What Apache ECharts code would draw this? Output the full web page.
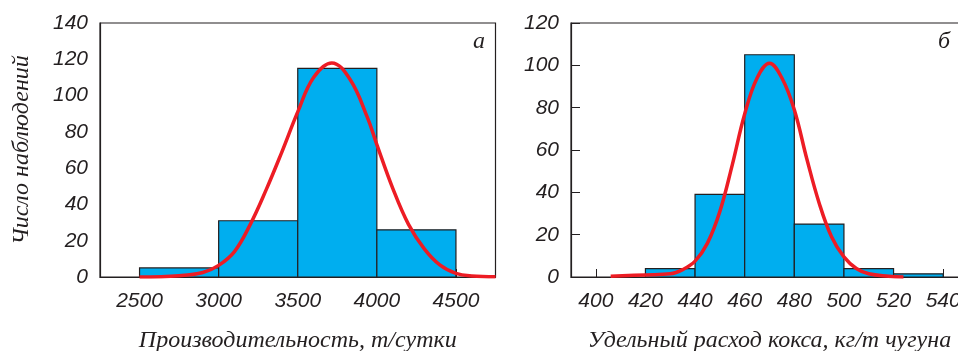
<!DOCTYPE html>
<html>
<head>
<meta charset="utf-8">
<script src="https://cdn.jsdelivr.net/npm/echarts@6/dist/echarts.min.js"></script>
<style>
  html, body { margin: 0; padding: 0; background: #fff; }
  #main { width: 958px; height: 351px; }
</style>
</head>
<body>
<div id="main"></div>
<script>
  // histogram bins [from, to, count]
  const prodBins = [
    [2500, 3000, 5],
    [3000, 3500, 31],
    [3500, 4000, 115],
    [4000, 4500, 26]
  ]
  // fitted curve
  const prodCurve = [
    [2500, 0], [2750, 0.7], [2900, 2.5], [3000, 6.4], [3100, 14], [3200, 29],
    [3300, 48], [3400, 69], [3500, 91], [3600, 110], [3715, 118], [3830, 109],
    [3940, 88], [4000, 73], [4100, 49], [4200, 29], [4300, 15.5], [4400, 6.5],
    [4500, 2], [4600, 0.6], [4750, 0.2]
  ]
  const cokeBins = [
    [420, 440, 4],
    [440, 460, 39],
    [460, 480, 105],
    [480, 500, 25],
    [500, 520, 4],
    [520, 540, 1.5]
  ]
  const cokeCurve = [
    [406, 0.3], [420, 1], [430, 1.5], [435, 3.5], [440, 7.5], [445, 16],
    [450, 31], [455, 53], [460, 77], [465, 94], [470, 101], [475, 94],
    [480, 79], [485, 56], [490, 35], [495, 19], [500, 9.5], [505, 4],
    [510, 1.5], [518, 0.4], [524, 0]
  ]
  const prodTicks = [2500, 3000, 3500, 4000, 4500]
  const cokeTicks = [400, 420, 440, 460, 480, 500, 520, 540]

  const ink = '#231f20'
  const tickFont = { fontFamily: 'Liberation Sans', fontStyle: 'italic', fontSize: 21, color: ink, formatter: v => String(v) }
  const nameFont = { fontFamily: 'Liberation Serif', fontStyle: 'italic', fontSize: 24, color: ink }

  function histItem(params, api) {
    let p0 = api.coord([api.value(0), api.value(2)])
    let p1 = api.coord([api.value(1), 0])
    return {
      type: 'rect',
      shape: { x: p0[0], y: p0[1], width: p1[0] - p0[0], height: p1[1] - p0[1] },
      style: { fill: '#00aeef', stroke: ink, lineWidth: 1.2 }
    }
  }

  let chart = echarts.init(document.getElementById('main'))
  let option = {
    animation: false,
    grid: [
      { left: 100, top: 23, width: 395.5, height: 254, outerBoundsMode: 'none', show: true, borderColor: ink, borderWidth: 1.2 },
      { left: 571, top: 23, width: 397, height: 254, outerBoundsMode: 'none', show: true, borderColor: ink, borderWidth: 1.2 }
    ],
    xAxis: [
      {
        gridIndex: 0, type: 'value', min: 2250, max: 4750,
        splitLine: { show: false },
        axisLine: { lineStyle: { color: ink, width: 1.2 } },
        axisTick: { show: true, inside: true, length: 8, customValues: prodTicks, lineStyle: { color: ink } },
        axisLabel: Object.assign({ margin: 14, customValues: prodTicks }, tickFont),
        name: 'Производительность, т/сутки',
        nameLocation: 'middle', nameGap: 52, nameTextStyle: nameFont
      },
      {
        gridIndex: 1, type: 'value', min: 390, max: 550,
        splitLine: { show: false },
        axisLine: { lineStyle: { color: ink, width: 1.2 } },
        axisTick: { show: true, inside: true, length: 8, customValues: cokeTicks, lineStyle: { color: ink } },
        axisLabel: Object.assign({ margin: 14, customValues: cokeTicks }, tickFont),
        name: 'Удельный расход кокса, кг/т чугуна',
        nameLocation: 'middle', nameGap: 52, nameTextStyle: nameFont
      }
    ],
    yAxis: [
      {
        gridIndex: 0, type: 'value', min: 0, max: 140, interval: 20,
        splitLine: { show: false },
        axisLine: { show: true, lineStyle: { color: ink, width: 1.2 } },
        axisTick: { show: false },
        axisLabel: Object.assign({ margin: 12 }, tickFont),
        name: 'Число наблюдений',
        nameLocation: 'middle', nameRotate: 90, nameGap: 66, nameTextStyle: nameFont
      },
      {
        gridIndex: 1, type: 'value', min: 0, max: 120, interval: 20,
        splitLine: { show: false },
        axisLine: { show: true, lineStyle: { color: ink, width: 1.2 } },
        axisTick: { show: true, inside: true, length: 9, lineStyle: { color: ink } },
        axisLabel: Object.assign({ margin: 12 }, tickFont)
      }
    ],
    graphic: [
      { type: 'text', left: 473, top: 30, style: { text: 'а', font: 'italic 24px "Liberation Serif"', fill: ink } },
      { type: 'text', left: 938, top: 30, style: { text: 'б', font: 'italic 24px "Liberation Serif"', fill: ink } }
    ],
    series: [
      { type: 'custom', xAxisIndex: 0, yAxisIndex: 0, renderItem: histItem, data: prodBins, encode: { x: [0, 1], y: 2 } },
      {
        type: 'line', xAxisIndex: 0, yAxisIndex: 0, data: prodCurve, smooth: 0.4, showSymbol: false,
        lineStyle: { color: '#ed1c24', width: 3.5 }, z: 5
      },
      { type: 'custom', xAxisIndex: 1, yAxisIndex: 1, renderItem: histItem, data: cokeBins, encode: { x: [0, 1], y: 2 } },
      {
        type: 'line', xAxisIndex: 1, yAxisIndex: 1, data: cokeCurve, smooth: 0.4, showSymbol: false,
        lineStyle: { color: '#ed1c24', width: 3.5 }, z: 5
      }
    ]
  }
  option && chart.setOption(option)
</script>
</body>
</html>
